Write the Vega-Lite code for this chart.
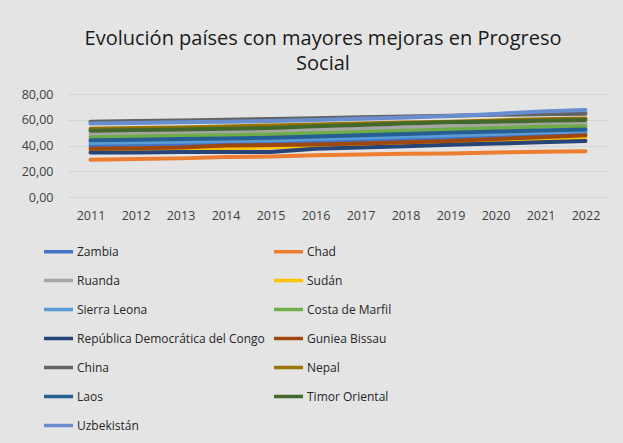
{
  "$schema": "https://vega.github.io/schema/vega-lite/v6.json",
  "autosize": "none",
  "width": 540,
  "height": 103,
  "padding": {"left": 68, "top": 94, "right": 15, "bottom": 246},
  "background": "#e4e4e4",
  "title": {
    "text": ["Evolución países con mayores mejoras en Progreso", "Social"],
    "anchor": "middle",
    "dx": -15,
    "offset": 14,
    "fontSize": 20,
    "font": "Open Sans",
    "fontWeight": "normal",
    "color": "#1a1a1a",
    "lineHeight": 25
  },
  "data": {
    "values": [
      {"pais": "Zambia", "anio": "2011", "v": 40.0}, {"pais": "Zambia", "anio": "2012", "v": 40.5}, {"pais": "Zambia", "anio": "2013", "v": 41.0}, {"pais": "Zambia", "anio": "2014", "v": 41.5}, {"pais": "Zambia", "anio": "2015", "v": 42.0}, {"pais": "Zambia", "anio": "2016", "v": 43.0}, {"pais": "Zambia", "anio": "2017", "v": 44.0}, {"pais": "Zambia", "anio": "2018", "v": 45.0}, {"pais": "Zambia", "anio": "2019", "v": 46.0}, {"pais": "Zambia", "anio": "2020", "v": 47.5}, {"pais": "Zambia", "anio": "2021", "v": 49.0}, {"pais": "Zambia", "anio": "2022", "v": 50.5},
      {"pais": "Chad", "anio": "2011", "v": 29.0}, {"pais": "Chad", "anio": "2012", "v": 29.5}, {"pais": "Chad", "anio": "2013", "v": 30.0}, {"pais": "Chad", "anio": "2014", "v": 31.0}, {"pais": "Chad", "anio": "2015", "v": 31.5}, {"pais": "Chad", "anio": "2016", "v": 32.5}, {"pais": "Chad", "anio": "2017", "v": 33.0}, {"pais": "Chad", "anio": "2018", "v": 33.5}, {"pais": "Chad", "anio": "2019", "v": 33.8}, {"pais": "Chad", "anio": "2020", "v": 34.6}, {"pais": "Chad", "anio": "2021", "v": 35.1}, {"pais": "Chad", "anio": "2022", "v": 35.6},
      {"pais": "Ruanda", "anio": "2011", "v": 49.0}, {"pais": "Ruanda", "anio": "2012", "v": 49.5}, {"pais": "Ruanda", "anio": "2013", "v": 50.0}, {"pais": "Ruanda", "anio": "2014", "v": 50.5}, {"pais": "Ruanda", "anio": "2015", "v": 51.0}, {"pais": "Ruanda", "anio": "2016", "v": 52.0}, {"pais": "Ruanda", "anio": "2017", "v": 53.0}, {"pais": "Ruanda", "anio": "2018", "v": 54.0}, {"pais": "Ruanda", "anio": "2019", "v": 55.0}, {"pais": "Ruanda", "anio": "2020", "v": 55.5}, {"pais": "Ruanda", "anio": "2021", "v": 56.3}, {"pais": "Ruanda", "anio": "2022", "v": 57.0},
      {"pais": "Sudán", "anio": "2011", "v": 36.0}, {"pais": "Sudán", "anio": "2012", "v": 36.3}, {"pais": "Sudán", "anio": "2013", "v": 37.0}, {"pais": "Sudán", "anio": "2014", "v": 38.0}, {"pais": "Sudán", "anio": "2015", "v": 38.5}, {"pais": "Sudán", "anio": "2016", "v": 39.0}, {"pais": "Sudán", "anio": "2017", "v": 40.0}, {"pais": "Sudán", "anio": "2018", "v": 41.0}, {"pais": "Sudán", "anio": "2019", "v": 42.0}, {"pais": "Sudán", "anio": "2020", "v": 43.5}, {"pais": "Sudán", "anio": "2021", "v": 45.0}, {"pais": "Sudán", "anio": "2022", "v": 46.0},
      {"pais": "Sierra Leona", "anio": "2011", "v": 42.0}, {"pais": "Sierra Leona", "anio": "2012", "v": 42.5}, {"pais": "Sierra Leona", "anio": "2013", "v": 43.0}, {"pais": "Sierra Leona", "anio": "2014", "v": 43.5}, {"pais": "Sierra Leona", "anio": "2015", "v": 44.0}, {"pais": "Sierra Leona", "anio": "2016", "v": 45.0}, {"pais": "Sierra Leona", "anio": "2017", "v": 46.0}, {"pais": "Sierra Leona", "anio": "2018", "v": 47.0}, {"pais": "Sierra Leona", "anio": "2019", "v": 48.0}, {"pais": "Sierra Leona", "anio": "2020", "v": 49.0}, {"pais": "Sierra Leona", "anio": "2021", "v": 50.0}, {"pais": "Sierra Leona", "anio": "2022", "v": 51.0},
      {"pais": "Costa de Marfil", "anio": "2011", "v": 46.5}, {"pais": "Costa de Marfil", "anio": "2012", "v": 47.0}, {"pais": "Costa de Marfil", "anio": "2013", "v": 47.5}, {"pais": "Costa de Marfil", "anio": "2014", "v": 48.0}, {"pais": "Costa de Marfil", "anio": "2015", "v": 48.5}, {"pais": "Costa de Marfil", "anio": "2016", "v": 49.5}, {"pais": "Costa de Marfil", "anio": "2017", "v": 50.5}, {"pais": "Costa de Marfil", "anio": "2018", "v": 51.5}, {"pais": "Costa de Marfil", "anio": "2019", "v": 52.5}, {"pais": "Costa de Marfil", "anio": "2020", "v": 53.5}, {"pais": "Costa de Marfil", "anio": "2021", "v": 54.5}, {"pais": "Costa de Marfil", "anio": "2022", "v": 55.0},
      {"pais": "República Democrática del Congo", "anio": "2011", "v": 34.5}, {"pais": "República Democrática del Congo", "anio": "2012", "v": 34.5}, {"pais": "República Democrática del Congo", "anio": "2013", "v": 35.0}, {"pais": "República Democrática del Congo", "anio": "2014", "v": 35.0}, {"pais": "República Democrática del Congo", "anio": "2015", "v": 35.0}, {"pais": "República Democrática del Congo", "anio": "2016", "v": 37.5}, {"pais": "República Democrática del Congo", "anio": "2017", "v": 38.5}, {"pais": "República Democrática del Congo", "anio": "2018", "v": 39.5}, {"pais": "República Democrática del Congo", "anio": "2019", "v": 40.5}, {"pais": "República Democrática del Congo", "anio": "2020", "v": 41.5}, {"pais": "República Democrática del Congo", "anio": "2021", "v": 42.5}, {"pais": "República Democrática del Congo", "anio": "2022", "v": 43.5},
      {"pais": "Guniea Bissau", "anio": "2011", "v": 37.5}, {"pais": "Guniea Bissau", "anio": "2012", "v": 37.8}, {"pais": "Guniea Bissau", "anio": "2013", "v": 38.5}, {"pais": "Guniea Bissau", "anio": "2014", "v": 40.0}, {"pais": "Guniea Bissau", "anio": "2015", "v": 40.3}, {"pais": "Guniea Bissau", "anio": "2016", "v": 40.8}, {"pais": "Guniea Bissau", "anio": "2017", "v": 41.5}, {"pais": "Guniea Bissau", "anio": "2018", "v": 42.5}, {"pais": "Guniea Bissau", "anio": "2019", "v": 43.5}, {"pais": "Guniea Bissau", "anio": "2020", "v": 45.0}, {"pais": "Guniea Bissau", "anio": "2021", "v": 46.5}, {"pais": "Guniea Bissau", "anio": "2022", "v": 48.0},
      {"pais": "China", "anio": "2011", "v": 58.5}, {"pais": "China", "anio": "2012", "v": 59.0}, {"pais": "China", "anio": "2013", "v": 59.5}, {"pais": "China", "anio": "2014", "v": 60.0}, {"pais": "China", "anio": "2015", "v": 60.5}, {"pais": "China", "anio": "2016", "v": 61.2}, {"pais": "China", "anio": "2017", "v": 62.0}, {"pais": "China", "anio": "2018", "v": 62.6}, {"pais": "China", "anio": "2019", "v": 63.2}, {"pais": "China", "anio": "2020", "v": 63.8}, {"pais": "China", "anio": "2021", "v": 64.3}, {"pais": "China", "anio": "2022", "v": 64.7},
      {"pais": "Nepal", "anio": "2011", "v": 53.0}, {"pais": "Nepal", "anio": "2012", "v": 53.5}, {"pais": "Nepal", "anio": "2013", "v": 54.0}, {"pais": "Nepal", "anio": "2014", "v": 54.8}, {"pais": "Nepal", "anio": "2015", "v": 55.5}, {"pais": "Nepal", "anio": "2016", "v": 56.3}, {"pais": "Nepal", "anio": "2017", "v": 57.0}, {"pais": "Nepal", "anio": "2018", "v": 57.8}, {"pais": "Nepal", "anio": "2019", "v": 58.5}, {"pais": "Nepal", "anio": "2020", "v": 59.5}, {"pais": "Nepal", "anio": "2021", "v": 60.3}, {"pais": "Nepal", "anio": "2022", "v": 61.0},
      {"pais": "Laos", "anio": "2011", "v": 44.0}, {"pais": "Laos", "anio": "2012", "v": 44.5}, {"pais": "Laos", "anio": "2013", "v": 45.0}, {"pais": "Laos", "anio": "2014", "v": 45.5}, {"pais": "Laos", "anio": "2015", "v": 46.0}, {"pais": "Laos", "anio": "2016", "v": 47.0}, {"pais": "Laos", "anio": "2017", "v": 48.0}, {"pais": "Laos", "anio": "2018", "v": 49.0}, {"pais": "Laos", "anio": "2019", "v": 50.0}, {"pais": "Laos", "anio": "2020", "v": 50.8}, {"pais": "Laos", "anio": "2021", "v": 51.7}, {"pais": "Laos", "anio": "2022", "v": 52.5},
      {"pais": "Timor Oriental", "anio": "2011", "v": 51.5}, {"pais": "Timor Oriental", "anio": "2012", "v": 52.0}, {"pais": "Timor Oriental", "anio": "2013", "v": 52.5}, {"pais": "Timor Oriental", "anio": "2014", "v": 53.0}, {"pais": "Timor Oriental", "anio": "2015", "v": 53.5}, {"pais": "Timor Oriental", "anio": "2016", "v": 55.0}, {"pais": "Timor Oriental", "anio": "2017", "v": 56.0}, {"pais": "Timor Oriental", "anio": "2018", "v": 57.0}, {"pais": "Timor Oriental", "anio": "2019", "v": 58.0}, {"pais": "Timor Oriental", "anio": "2020", "v": 58.5}, {"pais": "Timor Oriental", "anio": "2021", "v": 59.3}, {"pais": "Timor Oriental", "anio": "2022", "v": 59.8},
      {"pais": "Uzbekistán", "anio": "2011", "v": 57.0}, {"pais": "Uzbekistán", "anio": "2012", "v": 57.5}, {"pais": "Uzbekistán", "anio": "2013", "v": 58.0}, {"pais": "Uzbekistán", "anio": "2014", "v": 58.5}, {"pais": "Uzbekistán", "anio": "2015", "v": 59.0}, {"pais": "Uzbekistán", "anio": "2016", "v": 59.8}, {"pais": "Uzbekistán", "anio": "2017", "v": 60.8}, {"pais": "Uzbekistán", "anio": "2018", "v": 61.8}, {"pais": "Uzbekistán", "anio": "2019", "v": 63.0}, {"pais": "Uzbekistán", "anio": "2020", "v": 64.5}, {"pais": "Uzbekistán", "anio": "2021", "v": 66.5}, {"pais": "Uzbekistán", "anio": "2022", "v": 67.5}
    ]
  },
  "mark": {"type": "line", "strokeWidth": 4, "strokeCap": "round", "strokeJoin": "round"},
  "encoding": {
    "x": {
      "field": "anio", "type": "ordinal",
      "scale": {"type": "point", "padding": 0.5},
      "axis": {"title": null, "labelAngle": 0, "domain": false, "ticks": false, "labelPadding": 12, "labelFontSize": 12.5, "labelColor": "#404040", "labelFont": "Open Sans"}
    },
    "y": {
      "field": "v", "type": "quantitative",
      "scale": {"domain": [0, 80]},
      "axis": {"title": null, "values": [0, 20, 40, 60, 80], "labelExpr": "replace(format(datum.value, '.2f'), '.', ',')", "domain": false, "ticks": false, "labelPadding": 15, "labelFontSize": 12.5, "labelColor": "#404040", "labelFont": "Open Sans", "gridColor": "#d4d4d4", "gridWidth": 1}
    },
    "color": {
      "field": "pais", "type": "nominal",
      "scale": {
        "domain": ["Zambia", "Chad", "Ruanda", "Sudán", "Sierra Leona", "Costa de Marfil", "República Democrática del Congo", "Guniea Bissau", "China", "Nepal", "Laos", "Timor Oriental", "Uzbekistán"],
        "range": ["#4472C4", "#ED7D31", "#A5A5A5", "#FFC000", "#5B9BD5", "#70AD47", "#264478", "#9E480E", "#636363", "#997300", "#255E91", "#43682B", "#698ED0"]
      },
      "legend": {
        "title": null,
        "orient": "none",
        "direction": "horizontal",
        "legendX": -26,
        "legendY": 141,
        "columns": 2,
        "symbolType": "stroke",
        "symbolSize": 841,
        "symbolStrokeWidth": 3.5,
        "labelFontSize": 12,
        "labelFont": "Open Sans",
        "labelColor": "#262626",
        "labelOffset": 2,
        "rowPadding": 5,
        "columnPadding": 2,
        "labelLimit": 400
      }
    }
  },
  "config": {
    "view": {"stroke": null}
  }
}
